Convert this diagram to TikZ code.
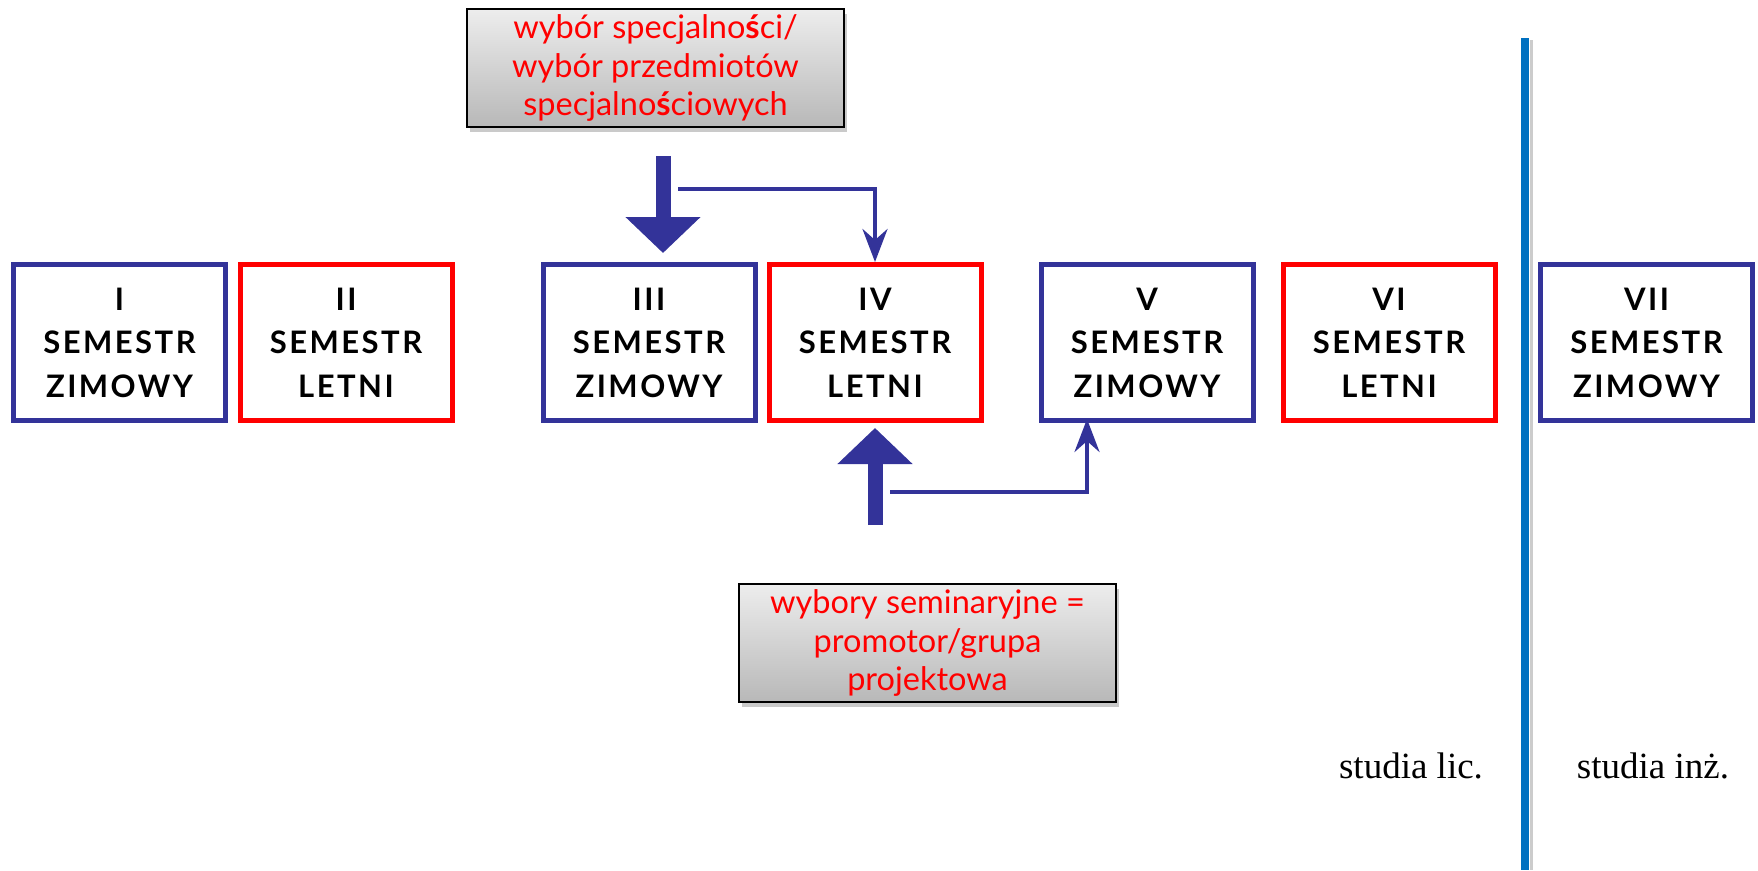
\documentclass[tikz,border=0pt]{standalone}
\usepackage{fontspec}
\setmainfont{Liberation Serif}
\newfontfamily\boxfont[LetterSpace=8]{Lato}
\newfontfamily\notefont{Lato}
\usetikzlibrary{arrows.meta,shadows,calc}
\definecolor{semblue}{HTML}{333399}
\definecolor{semred}{HTML}{FF0000}
\definecolor{lineblue}{HTML}{0070C0}
\definecolor{gtop}{HTML}{EDEDED}
\definecolor{gbot}{HTML}{B8B8B8}
\begin{document}
\begin{tikzpicture}[x=1pt,y=-1pt,
  sem/.style={rectangle, line width=5pt, minimum width=212pt, minimum height=156pt,
    inner sep=0pt, align=center, text=black,
    font=\boxfont\bfseries\fontsize{31}{43.5}\selectfont},
  note/.style={rectangle, draw=black, line width=2pt, top color=gtop, bottom color=gbot,
    minimum width=377pt, minimum height=118pt, inner sep=0pt, align=center, text=semred,
    font=\notefont\fontsize{32.5}{38.5}\selectfont,
    drop shadow={shadow xshift=3pt, shadow yshift=-5pt, opacity=0.35, fill=black!60}},
  bigarrow/.style={draw=semblue, line width=15pt, -{Triangle[width=73pt,length=36pt]}},
  thinarrow/.style={draw=semblue, line width=4pt, -{Stealth[width=25pt,length=33pt,inset=11pt]}},
  lbl/.style={anchor=base, inner sep=0pt, font=\fontsize{37}{42}\selectfont}
]
\useasboundingbox (0,0) rectangle (1758,870);

\node[sem, draw=semblue] (I)   at (119.5,342.5) {I\\SEMESTR\\ZIMOWY};
\node[sem, draw=semred]  (II)  at (346,342.5)   {II\\SEMESTR\\LETNI};
\node[sem, draw=semblue] (III) at (649,342.5)   {III\\SEMESTR\\ZIMOWY};
\node[sem, draw=semred]  (IV)  at (875,342.5)   {IV\\SEMESTR\\LETNI};
\node[sem, draw=semblue] (V)   at (1147,342.5)  {V\\SEMESTR\\ZIMOWY};
\node[sem, draw=semred]  (VI)  at (1389,342.5)  {VI\\SEMESTR\\LETNI};
\node[sem, draw=semblue] (VII) at (1646.5,342.5) {VII\\SEMESTR\\ZIMOWY};

\node[note] (spec) at (655.5,68) {wybór specjalno{\bfseries ś}ci/\\wybór przedmiotów\\specjalno{\bfseries ś}ciowych};
\node[note] (sem) at (927.5,643) {wybory seminaryjne =\\promotor/grupa\\projektowa};

% thick arrows
\coordinate (t1) at (663,156);
\draw[bigarrow] (t1) -- ($(III.north)+(14,-9)$);
\coordinate (b1) at (875,525);
\draw[bigarrow] (b1) -- ($(IV.south)+(0,5)$);

% thin connectors
\coordinate (c1) at (678,189);
\draw[thinarrow] (c1) -| (IV.north);
\coordinate (c2) at (890,492);
\draw[thinarrow] (c2) -| ($(V.south)+(-60,-4)$);

% divider line
\coordinate (d1) at (1525,38);
\coordinate (d2) at (1525,870);
\draw[black!20, line width=3pt] ($(d1)+(6,2)$) -- ($(d2)+(6,0)$);
\draw[lineblue, line width=8pt] (d1) -- (d2);

\node[lbl] (lic) at (1411,778) {studia lic.};
\node[lbl] (inz) at (1653,778) {studia inż.};
\end{tikzpicture}
\end{document}
